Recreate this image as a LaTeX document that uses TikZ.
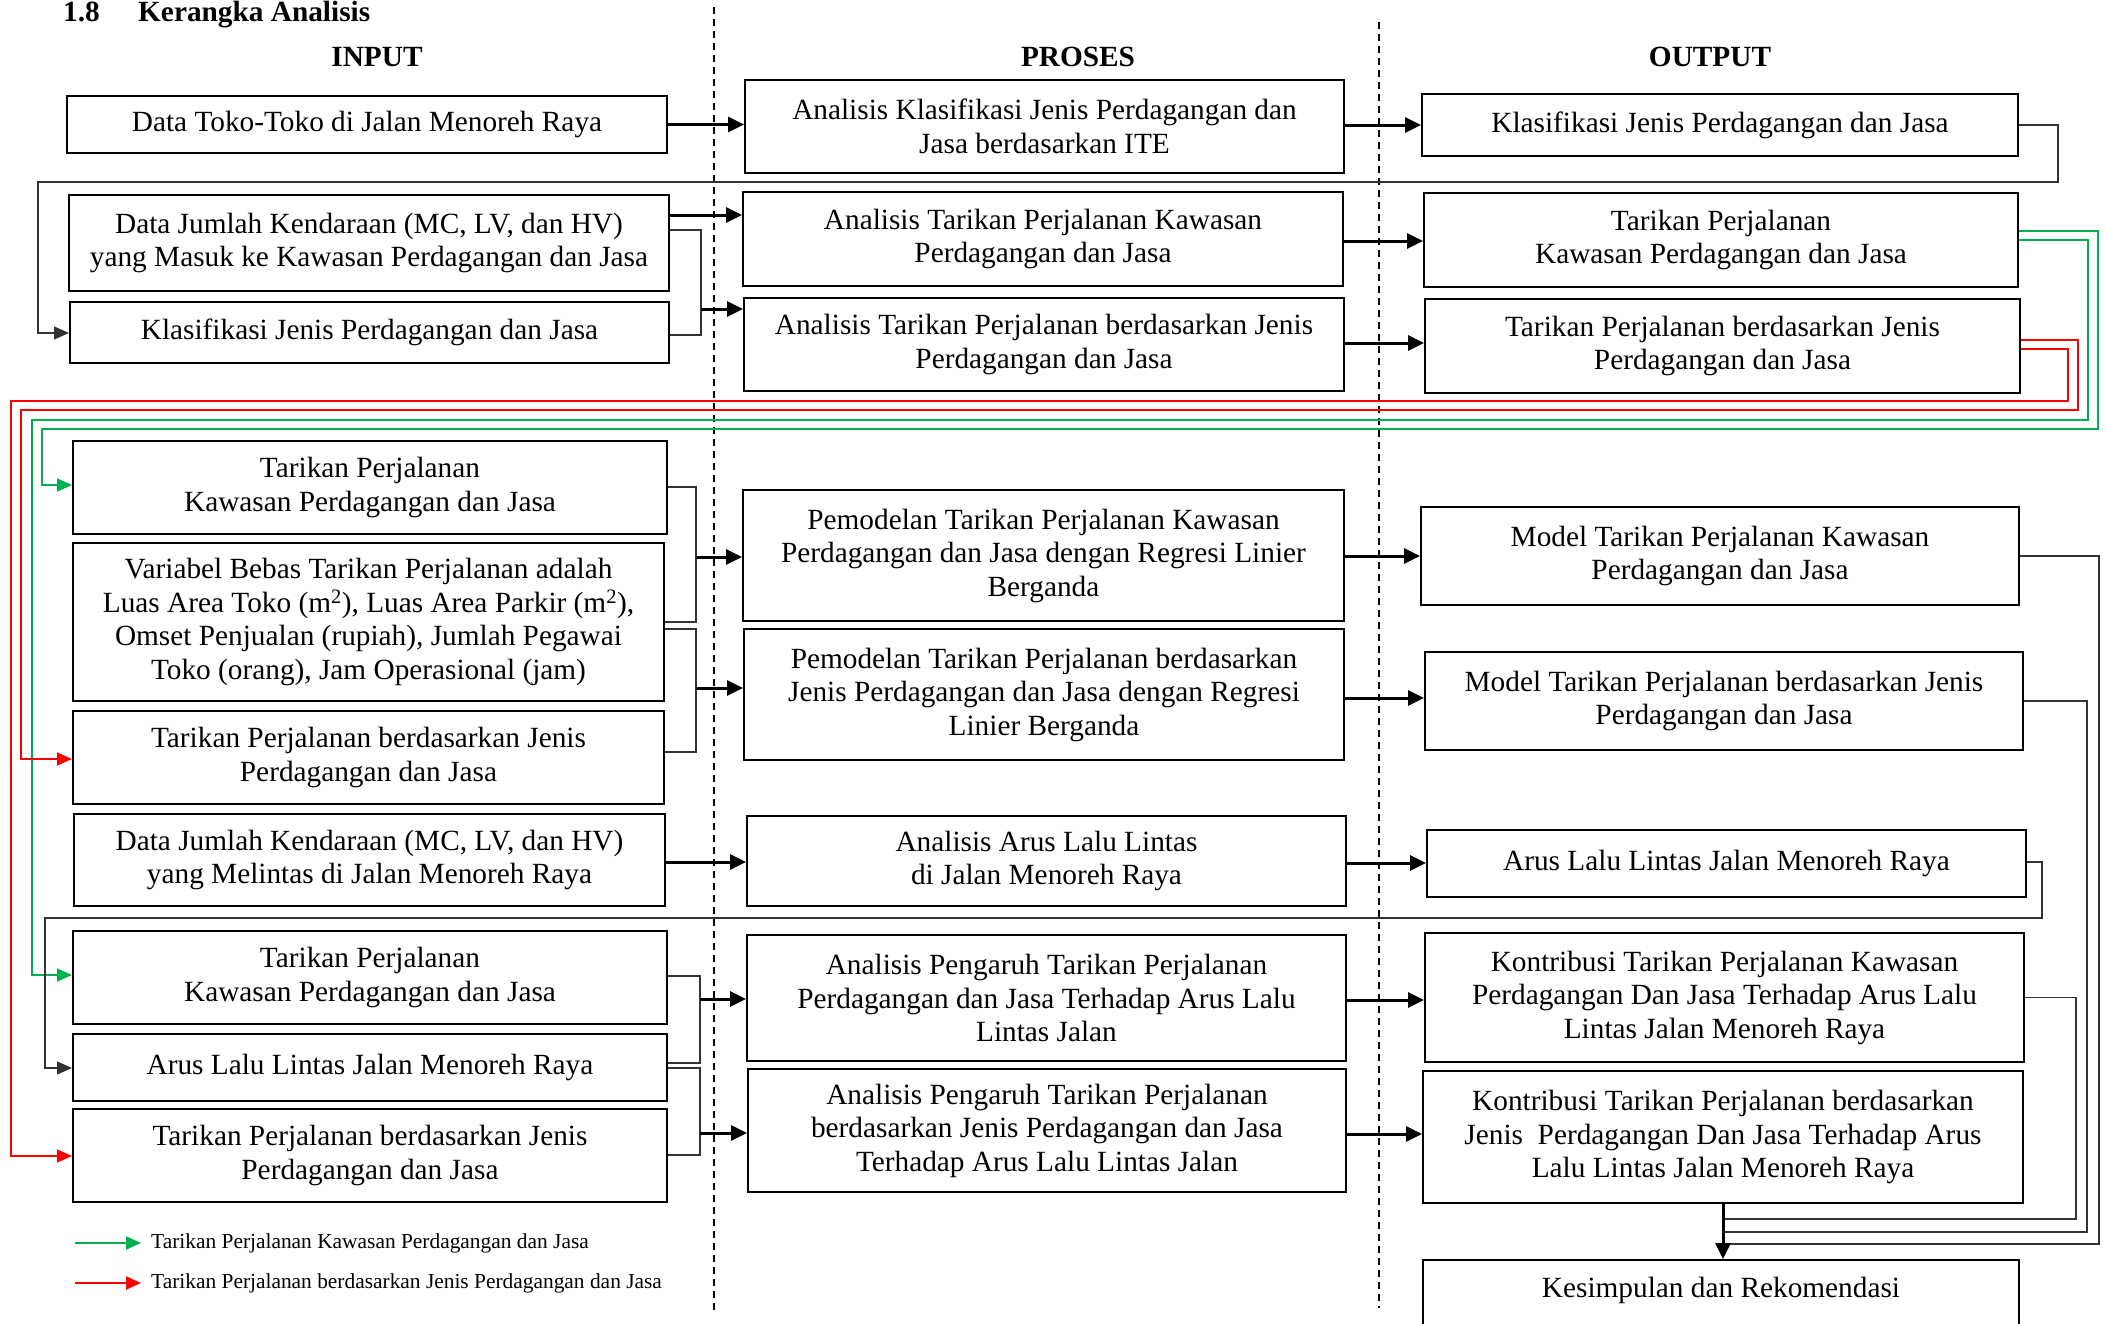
\documentclass[tikz,border=0pt]{standalone}
\usepackage{fontspec}
\setmainfont{Liberation Serif}
\usetikzlibrary{arrows.meta}
\definecolor{hijau}{RGB}{0,176,80}
\definecolor{merah}{RGB}{255,0,0}

\begin{document}
\begin{tikzpicture}[x=1pt,y=-1pt]
	\tikzset{kotak/.style={draw,line width=2pt,align=center,inner sep=4pt,font=\fontsize{29.3pt}{33.5pt}\selectfont},
		judulkol/.style={font=\bfseries\fontsize{29.3pt}{33.5pt}\selectfont,inner sep=0pt},
		panah/.style={line width=3pt,-{Triangle[length=16pt,width=15pt]}},
		garis/.style={line width=1.4pt,draw=black!80},
		ujung/.style={-{Triangle[length=15pt,width=13pt]}},
		warna/.style={line width=1.8pt,draw=#1},
		putus/.style={line width=1.2pt,dashed,dash pattern=on 7pt off 5pt}}
	\clip (0,0) rectangle (2105,1323);
	% judul
	\node[judulkol,anchor=base west] (nomor) at (63,21) {1.8};
	\node[judulkol,anchor=base west] (judul) at (138,21) {Kerangka Analisis};
	\node[judulkol] (hinput) at (377,57) {INPUT};
	\node[judulkol] (hproses) at (1078,57) {PROSES};
	\node[judulkol] (houtput) at (1710,57) {OUTPUT};
	\draw[putus] (714,7) -- (714,1310);
	\draw[putus] (1379,22) -- (1379,1308);
	% kolom input
	\node[kotak,minimum width=600pt,minimum height=57pt] (i1) at (367,124.5) {Data Toko-Toko di Jalan Menoreh Raya};
	\node[kotak,minimum width=600pt,minimum height=96pt] (i2) at (369,243) {Data Jumlah Kendaraan (MC, LV, dan HV)\\yang Masuk ke Kawasan Perdagangan dan Jasa};
	\node[kotak,minimum width=599pt,minimum height=61pt] (i3) at (369.5,332.5) {Klasifikasi Jenis Perdagangan dan Jasa};
	\node[kotak,minimum width=594pt,minimum height=93pt] (i4) at (370,487.5) {Tarikan Perjalanan\\Kawasan Perdagangan dan Jasa};
	\node[kotak,minimum width=591pt,minimum height=158pt] (i5) at (368.5,622) {Variabel Bebas Tarikan Perjalanan adalah\\Luas Area Toko (m\textsuperscript{2}), Luas Area Parkir (m\textsuperscript{2}),\\Omset Penjualan (rupiah), Jumlah Pegawai\\Toko (orang), Jam Operasional (jam)};
	\node[kotak,minimum width=591pt,minimum height=93pt] (i6) at (368.5,757.5) {Tarikan Perjalanan berdasarkan Jenis\\Perdagangan dan Jasa};
	\node[kotak,minimum width=591pt,minimum height=92pt] (i7) at (369.5,860) {Data Jumlah Kendaraan (MC, LV, dan HV)\\yang Melintas di Jalan Menoreh Raya};
	\node[kotak,minimum width=594pt,minimum height=93pt] (i8) at (370,977.5) {Tarikan Perjalanan\\Kawasan Perdagangan dan Jasa};
	\node[kotak,minimum width=594pt,minimum height=67pt] (i9) at (370,1067.5) {Arus Lalu Lintas Jalan Menoreh Raya};
	\node[kotak,minimum width=594pt,minimum height=93pt] (i10) at (370,1155.5) {Tarikan Perjalanan berdasarkan Jenis\\Perdagangan dan Jasa};
	% kolom proses
	\node[kotak,minimum width=599pt,minimum height=93pt] (p1) at (1044.5,126.5) {Analisis Klasifikasi Jenis Perdagangan dan\\Jasa berdasarkan ITE};
	\node[kotak,minimum width=600pt,minimum height=94pt] (p2) at (1043,239) {Analisis Tarikan Perjalanan Kawasan\\Perdagangan dan Jasa};
	\node[kotak,minimum width=600pt,minimum height=93pt] (p3) at (1044,344.5) {Analisis Tarikan Perjalanan berdasarkan Jenis\\Perdagangan dan Jasa};
	\node[kotak,minimum width=601pt,minimum height=131pt] (p4) at (1043.5,555.5) {Pemodelan Tarikan Perjalanan Kawasan\\Perdagangan dan Jasa dengan Regresi Linier\\Berganda};
	\node[kotak,minimum width=600pt,minimum height=131pt] (p5) at (1044,694.5) {Pemodelan Tarikan Perjalanan berdasarkan\\Jenis Perdagangan dan Jasa dengan Regresi\\Linier Berganda};
	\node[kotak,minimum width=599pt,minimum height=90pt] (p6) at (1046.5,861) {Analisis Arus Lalu Lintas\\di Jalan Menoreh Raya};
	\node[kotak,minimum width=599pt,minimum height=126pt] (p7) at (1046.5,998) {Analisis Pengaruh Tarikan Perjalanan\\Perdagangan dan Jasa Terhadap Arus Lalu\\Lintas Jalan};
	\node[kotak,minimum width=598pt,minimum height=123pt] (p8) at (1047,1130.5) {Analisis Pengaruh Tarikan Perjalanan\\berdasarkan Jenis Perdagangan dan Jasa\\Terhadap Arus Lalu Lintas Jalan};
	% kolom output
	\node[kotak,minimum width=596pt,minimum height=62pt] (o1) at (1720,125) {Klasifikasi Jenis Perdagangan dan Jasa};
	\node[kotak,minimum width=594pt,minimum height=94pt] (o2) at (1721,240) {Tarikan Perjalanan\\Kawasan Perdagangan dan Jasa};
	\node[kotak,minimum width=595pt,minimum height=94pt] (o3) at (1722.5,346) {Tarikan Perjalanan berdasarkan Jenis\\Perdagangan dan Jasa};
	\node[kotak,minimum width=598pt,minimum height=98pt] (o4) at (1720,556) {Model Tarikan Perjalanan Kawasan\\Perdagangan dan Jasa};
	\node[kotak,minimum width=598pt,minimum height=98pt] (o5) at (1724,701) {Model Tarikan Perjalanan berdasarkan Jenis\\Perdagangan dan Jasa};
	\node[kotak,minimum width=599pt,minimum height=67pt] (o6) at (1726.5,863.5) {Arus Lalu Lintas Jalan Menoreh Raya};
	\node[kotak,minimum width=599pt,minimum height=129pt] (o8) at (1724.5,997.5) {Kontribusi Tarikan Perjalanan Kawasan\\Perdagangan Dan Jasa Terhadap Arus Lalu\\Lintas Jalan Menoreh Raya};
	\node[kotak,minimum width=600pt,minimum height=132pt] (o9) at (1723,1137) {Kontribusi Tarikan Perjalanan berdasarkan\\Jenis\ \ Perdagangan Dan Jasa Terhadap Arus\\Lalu Lintas Jalan Menoreh Raya};
	\node[kotak,minimum width=596pt,anchor=north,text height=33pt,text depth=70pt] (o10) at (1721,1259) {Kesimpulan dan Rekomendasi};
	% baris 1
	\draw[panah] (i1.east) -- (i1.east -| p1.west);
	\draw[panah] (p1.east |- 0,125) -- (o1.west |- 0,125);
	\draw[garis,ujung] (o1.east |- 0,125) -| (2058,182) -| (38,333) -- (i3.west |- 0,333);
	\draw[panah] (i2.east |- 0,215) -- (p2.west |- 0,215);
	\coordinate (k1) at (701,309);
	\draw[garis] (i2.east |- 0,230) -| (k1) |- (i3.east |- 0,335);
	\draw[panah] (k1) -- (k1 -| p3.west);
	\draw[panah] (p2.east |- 0,241) -- (o2.west |- 0,241);
	\draw[panah] (p3.east |- 0,343) -- (o3.west |- 0,343);
	% umpan balik tarikan
	\draw[warna=hijau,ujung] (o2.east |- 0,231) -| (2098,429) -| (42,485) -- (i4.west |- 0,485);
	\draw[warna=hijau,ujung] (o2.east |- 0,240) -| (2088,420) -| (32,975) -- (i8.west |- 0,975);
	\draw[warna=merah,ujung] (o3.east |- 0,340) -| (2078,410) -| (21,759) -- (i6.west |- 0,759);
	\draw[warna=merah,ujung] (o3.east |- 0,349) -| (2068,401) -| (11,1156) -- (i10.west |- 0,1156);
	% baris 2
	\coordinate (k2) at (696,557);
	\draw[garis] (i4.east |- 0,487) -| (k2) |- (i5.east |- 0,622);
	\draw[panah] (k2) -- (k2 -| p4.west);
	\coordinate (k3) at (696,688);
	\draw[garis] (i5.east |- 0,629) -| (k3) |- (i6.east |- 0,752);
	\draw[panah] (k3) -- (k3 -| p5.west);
	\draw[panah] (i7.east |- 0,862) -- (p6.west |- 0,862);
	\draw[panah] (p4.east |- 0,556) -- (o4.west |- 0,556);
	\draw[panah] (p5.east |- 0,698) -- (o5.west |- 0,698);
	\draw[panah] (p6.east |- 0,863) -- (o6.west |- 0,863);
	\draw[garis,ujung] (o6.east |- 0,862) -| (2042,918) -| (45,1068) -- (i9.west |- 0,1068);
	% baris 3
	\coordinate (k4) at (700,999);
	\draw[garis] (i8.east |- 0,976) -| (k4) |- (i9.east |- 0,1063);
	\draw[panah] (k4) -- (k4 -| p7.west);
	\coordinate (k5) at (700,1133);
	\draw[garis] (i9.east |- 0,1068) -| (k5) |- (i10.east |- 0,1155);
	\draw[panah] (k5) -- (k5 -| p8.west);
	\draw[panah] (p7.east |- 0,1000) -- (o8.west |- 0,1000);
	\draw[panah] (p8.east |- 0,1134) -- (o9.west |- 0,1134);
	% ke kesimpulan
	\draw[garis] (o4.east) -| (2099,1244) -- (o9.south |- 0,1244);
	\draw[garis] (o5.east) -| (2087,1232) -- (o9.south |- 0,1232);
	\draw[garis] (o8.east) -| (2076,1219) -- (o9.south |- 0,1219);
	\draw[panah] (o9.south) -- (o9.south |- o10.north);
	% keterangan
	\node[anchor=west,inner sep=0pt,font=\fontsize{21.4pt}{24pt}\selectfont] (lg1) at (151,1243) {Tarikan Perjalanan Kawasan Perdagangan dan Jasa};
	\node[anchor=west,inner sep=0pt,font=\fontsize{21.4pt}{24pt}\selectfont] (lg2) at (151,1283) {Tarikan Perjalanan berdasarkan Jenis Perdagangan dan Jasa};
	\coordinate (lg1a) at (75,1243);
	\coordinate (lg2a) at (75,1283);
	\draw[warna=hijau,line width=2.4pt,ujung] (lg1a) -- ([xshift=-10pt]lg1.west);
	\draw[warna=merah,line width=2.4pt,ujung] (lg2a) -- ([xshift=-10pt]lg2.west);
\end{tikzpicture}
\end{document}
